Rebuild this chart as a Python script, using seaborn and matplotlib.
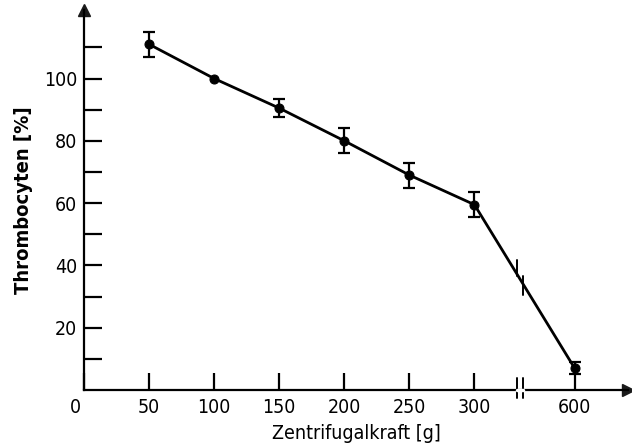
import matplotlib
matplotlib.use("Agg")
import matplotlib.pyplot as plt
import seaborn as sns
import pandas as pd
import numpy as np
from matplotlib.transforms import ScaledTranslation

forces = [50, 100, 150, 200, 250, 300, 600]
thrombocyten = [111, 100, 90.5, 80, 69, 59.5, 7]
errors = [4, 0, 3, 4, 4, 4, 2]
x_tick_values = [0, 50, 100, 150, 200, 250, 300, 600]
y_major = [20, 40, 60, 80, 100]
y_minor = [10, 30, 50, 70, 90, 110]

BREAK_POS = 335
def to_pos(f):
    return f if f <= 300 else 377

sns.set_theme(style="white")
plt.rcParams["font.family"] = ["DejaVu Sans"]
plt.rcParams["font.stretch"] = "condensed"
plt.rcParams["text.color"] = "black"
plt.rcParams["axes.labelcolor"] = "black"
plt.rcParams["xtick.color"] = "black"
plt.rcParams["ytick.color"] = "black"

df = pd.DataFrame({"pos": [to_pos(f) for f in forces], "val": thrombocyten, "err": errors})

fig = plt.figure(figsize=(6.32, 4.46), dpi=100)
ax = fig.add_axes([84/632, 56/446, 544/632, 380/446])
sns.lineplot(data=df, x="pos", y="val", ax=ax, color="black", lw=2.0,
             marker="o", markersize=6.5, markeredgecolor="black")
e = df[df.err > 0]
ax.errorbar(e.pos, e.val, yerr=e.err, fmt="none", ecolor="black", elinewidth=1.6, capsize=4.5, capthick=1.6)

ax.set_xlim(0, 418)
ax.set_ylim(0, 122)
for s in ["top", "right"]:
    ax.spines[s].set_visible(False)
for s in ["left", "bottom"]:
    ax.spines[s].set_color("black")
    ax.spines[s].set_linewidth(1.6)

ax.set_xticks([to_pos(v) for v in x_tick_values])
ax.set_xticklabels([str(v) for v in x_tick_values], fontsize=14)
ax.set_yticks(y_major)
ax.set_yticklabels([str(v) for v in y_major], fontsize=14)
ax.set_yticks(y_minor, minor=True)
ax.tick_params(axis="x", bottom=True, direction="in", length=12, width=1.6, color="black", pad=6)
ax.tick_params(axis="y", which="both", left=True, direction="in", length=13, width=1.6, color="black", pad=5)
# shift "0" label left of origin
lbl0 = ax.get_xticklabels()[0]
lbl0.set_transform(lbl0.get_transform() + ScaledTranslation(-9/100, 0, fig.dpi_scale_trans))

ax.set_xlabel("Zentrifugalkraft [g]", fontsize=14, labelpad=5)
ax.set_ylabel("Thrombocyten [%]", fontsize=14.5, fontweight="bold", labelpad=8)

# arrows
ax.plot(1, 0, ">k", transform=ax.get_yaxis_transform(), clip_on=False, markersize=8)
ax.plot(0, 1, "^k", transform=ax.get_xaxis_transform(), clip_on=False, markersize=8)

# axis break marks
for dx in (-2.5, 2.5):
    ax.plot([BREAK_POS + dx, BREAK_POS + dx], [-2.5, 4], color="black", lw=1.4, clip_on=False)
ax.plot([BREAK_POS - 2.5, BREAK_POS + 2.5], [0, 0], color="white", lw=2.5, zorder=5, clip_on=False)
# line break marks
yb = np.interp(BREAK_POS, [300, 377], [59.5, 7])
ax.plot([BREAK_POS - 2.5]*2, [yb + 1, yb + 6], color="black", lw=1.4)
ax.plot([BREAK_POS + 2.5]*2, [yb - 5, yb + 1], color="black", lw=1.4)

fig.savefig("out.png", dpi=100)
